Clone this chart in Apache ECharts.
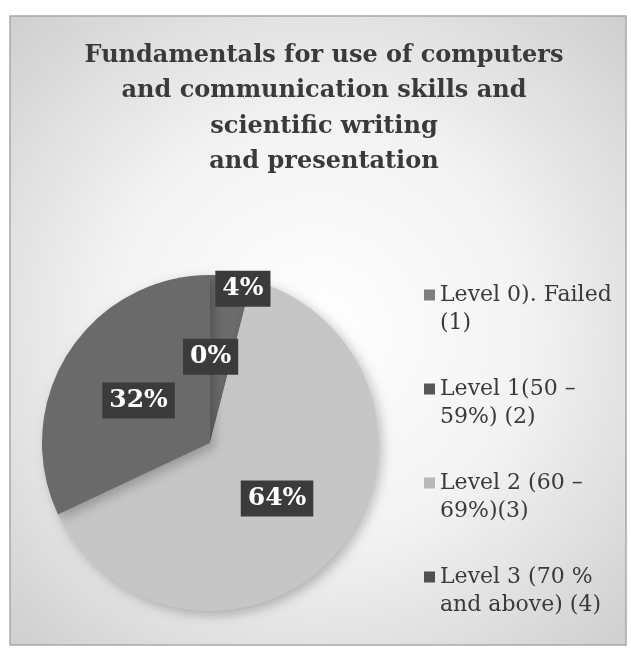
<!DOCTYPE html>
<html>
<head>
<meta charset="utf-8">
<script src="https://cdn.jsdelivr.net/npm/echarts@6/dist/echarts.min.js"></script>
<style>
html,body{margin:0;padding:0;background:#fff;}
#main{width:631px;height:659px;}
</style>
</head>
<body>
<div id="main"></div>
<script>
const titleText = "Fundamentals for use of computers\nand communication skills and\nscientific writing\nand presentation";
const categories = [
  "Level 0). Failed\n(1)",
  "Level 1(50 \u2013\n59%) (2)",
  "Level 2 (60 \u2013\n69%)(3)",
  "Level 3 (70 %\nand above) (4)"
];
const counts = [1, 0, 16, 8];
const sliceColors = ["#6c6c6c", "#5a5a5a", "#c6c6c6", "#6a6a6a"];
const legendColors = ["#7e7e7e", "#575757", "#b8b8b8", "#505050"];

const chart = echarts.init(document.getElementById('main'), null, {renderer: 'canvas'});
const SERIF = "'DejaVu Serif', 'Liberation Serif', serif";
const LH = 28;
const labelShift = [[22, -68], [-21, -2], [0, 0], [2, 4]];

const option = {
  backgroundColor: '#ffffff',
  animation: false,
  graphic: [{
    type: 'rect',
    z: -10,
    shape: {x: 10, y: 16, width: 616, height: 629},
    style: {
      fill: {
        type: 'radial', x: 0.5, y: 0.5, r: 0.75,
        colorStops: [
          {offset: 0, color: '#ffffff'},
          {offset: 0.45, color: '#f3f3f3'},
          {offset: 1, color: '#cbcbcb'}
        ]
      },
      stroke: '#a8a8a8',
      lineWidth: 1.5
    }
  }],
  title: {
    text: titleText,
    left: 324,
    textAlign: 'center',
    top: 38,
    padding: 0,
    textStyle: {
      fontFamily: SERIF,
      fontWeight: 'bold',
      fontSize: 24,
      lineHeight: 35.5,
      color: '#3a3a3a'
    }
  },
  legend: {
    orient: 'vertical',
    left: 419,
    top: 248,
    itemWidth: 11,
    itemHeight: 11,
    itemGap: 10,
    icon: 'rect',
    data: categories.map((n, i) => ({name: n, itemStyle: {color: legendColors[i]}})),
    formatter: function (name) { return ' \n' + name; },
    textStyle: {
      fontFamily: SERIF,
      fontSize: 22,
      lineHeight: LH,
      color: '#3a3a3a'
    }
  },
  series: [{
    type: 'pie',
    center: [210, 443],
    radius: 168,
    startAngle: 90,
    clockwise: true,
    avoidLabelOverlap: false,
    minAngle: 0,
    data: categories.map((n, i) => ({name: n, value: counts[i], itemStyle: {color: sliceColors[i]}})),
    itemStyle: {
      shadowColor: 'rgba(0,0,0,0.25)',
      shadowBlur: 12,
      shadowOffsetX: 4,
      shadowOffsetY: 4
    },
    label: {
      show: true,
      position: 'inside',
      formatter: '{d}%',
      fontFamily: SERIF,
      fontWeight: 'bold',
      fontSize: 25,
      color: '#ffffff',
      backgroundColor: '#3b3b3b',
      padding: [6, 7, 5, 7]
    },
    labelLine: {show: false},
    labelLayout: function (p) {
      const s = labelShift[p.dataIndex] || [0, 0];
      return {dx: s[0], dy: s[1]};
    }
  }]
};
chart.setOption(option);
</script>
</body>
</html>
